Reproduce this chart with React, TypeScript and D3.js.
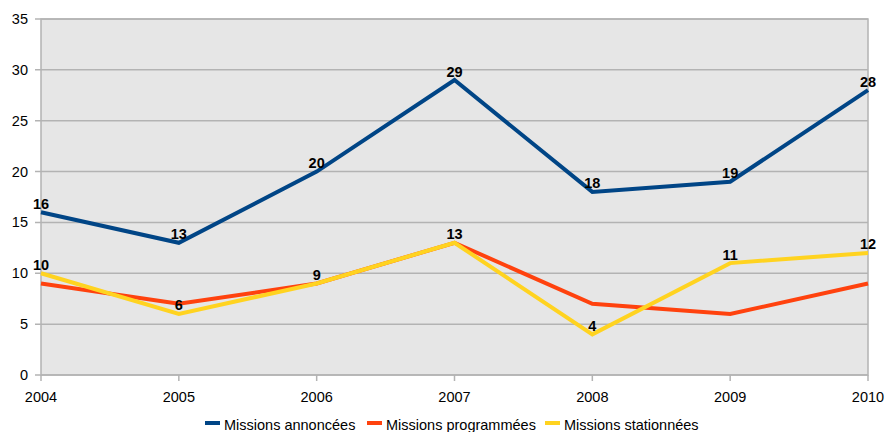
import React from "react";
import * as d3 from "d3";

const years = [2004, 2005, 2006, 2007, 2008, 2009, 2010];
const annoncees = [16, 13, 20, 29, 18, 19, 28];
const programmees = [9, 7, 9, 13, 7, 6, 9];
const stationnees = [10, 6, 9, 13, 4, 11, 12];
const yTicks = [0, 5, 10, 15, 20, 25, 30, 35];
const seriesNames = ["Missions annoncées", "Missions programmées", "Missions stationnées"];
const seriesColors = ["#004586", "#ff420e", "#ffd320"];
const seriesLabelled = [true, false, true];

export default function App() {
  const W = 886, H = 432;
  const left = 41, right = 868, top = 19, bottom = 375;
  const x = d3.scaleLinear().domain([2004, 2010]).range([left, right]);
  const y = d3.scaleLinear().domain([0, 35]).range([bottom, top]);
  const data = [annoncees, programmees, stationnees];
  const line = d3.line<number>().x((_, i) => x(years[i])).y((d) => y(d));
  const font = "'Liberation Sans', Arial, sans-serif";
  const legendX = [205, 367, 545];
  const fs = 14.5;

  return (
    <svg width={W} height={H} style={{ position: "absolute", left: 0, top: 0 }} fontFamily={font}>
      <rect x={0} y={0} width={W} height={H} fill="#fff" />
      <rect x={left} y={top} width={right - left} height={bottom - top} fill="#e6e6e6" stroke="#b3b3b3" strokeWidth={1.5} />
      {yTicks.map((t) => (
        <g key={t}>
          <line x1={left - 6} x2={right} y1={y(t)} y2={y(t)} stroke="#b3b3b3" strokeWidth={1.5} />
          <text x={28} y={y(t) + 5} textAnchor="end" fontSize={fs} fill="#000">{t}</text>
        </g>
      ))}
      {years.map((yr) => (
        <g key={yr}>
          <line x1={x(yr)} x2={x(yr)} y1={bottom} y2={bottom + 6} stroke="#b3b3b3" strokeWidth={1.5} />
          <text x={x(yr)} y={402} textAnchor="middle" fontSize={fs} fill="#000">{yr}</text>
        </g>
      ))}
      {data.map((s, k) => (
        <path key={k} d={line(s) || ""} fill="none" stroke={seriesColors[k]} strokeWidth={4} strokeLinejoin="miter" />
      ))}
      {data.map((s, k) =>
        seriesLabelled[k]
          ? s.map((v, i) => (
              <text key={`${k}-${i}`} x={x(years[i])} y={y(v) - 3.5} textAnchor="middle" fontSize={fs} fontWeight="bold" fill="#000">
                {v}
              </text>
            ))
          : null
      )}
      {seriesNames.map((n, k) => (
        <g key={n}>
          <rect x={legendX[k]} y={421} width={15} height={4} fill={seriesColors[k]} />
          <text x={legendX[k] + 19} y={430} fontSize={fs} fill="#000">{n}</text>
        </g>
      ))}
    </svg>
  );
}
